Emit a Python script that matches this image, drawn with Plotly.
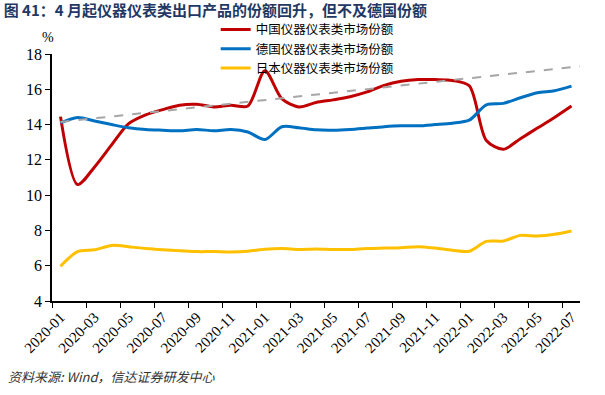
import plotly.graph_objects as go

months = [f"{y}-{m:02d}" for y in (2020, 2021, 2022) for m in range(1, 13)][:31]

china = [14.45, 10.6, 11.6, 12.85, 14.05, 14.55, 14.85, 15.1, 15.15, 15.0, 15.1, 15.05,
         17.05, 15.45, 15.0, 15.25, 15.4, 15.58, 15.85, 16.22, 16.45, 16.55, 16.55, 16.5,
         16.2, 13.1, 12.6, 13.2, 13.8, 14.4, 15.05]
germany = [14.1, 14.4, 14.2, 14.0, 13.82, 13.72, 13.68, 13.65, 13.72, 13.65, 13.72, 13.58,
           13.15, 13.88, 13.82, 13.7, 13.68, 13.72, 13.8, 13.88, 13.93, 13.93, 14.0, 14.08,
           14.25, 15.12, 15.2, 15.52, 15.8, 15.92, 16.18]
japan = [5.97, 6.8, 6.9, 7.15, 7.08, 6.97, 6.9, 6.85, 6.8, 6.8, 6.78, 6.82,
         6.93, 6.97, 6.92, 6.95, 6.92, 6.92, 6.98, 7.0, 7.02, 7.08, 7.0, 6.88,
         6.82, 7.38, 7.4, 7.72, 7.68, 7.78, 7.97]
trend_x = [0, 30.5]
trend_y = [14.15, 17.3]

names = ["中国仪器仪表类市场份额", "德国仪器仪表类市场份额", "日本仪器仪表类市场份额"]
colors = ["#C00000", "#0070C0", "#FFC000"]

fig = go.Figure()
fig.add_trace(go.Scatter(x=trend_x, y=trend_y, mode="lines", xaxis="x2",
                         line=dict(color="#A6A6A6", width=2, dash="dash"),
                         showlegend=False, hoverinfo="skip"))
for name, vals, col in zip(names, [china, germany, japan], colors):
    fig.add_trace(go.Scatter(x=months, y=vals, mode="lines", name=name,
                             line=dict(color=col, width=3, shape="spline", smoothing=0.8)))

serif = "Liberation Serif, Times New Roman, serif"
cjk = "Noto Sans CJK SC"

fig.update_layout(
    width=605, height=395,
    margin=dict(l=52, r=25, t=54, b=94, autoexpand=False),
    plot_bgcolor="white", paper_bgcolor="white",
    title=dict(text="<b>图 41：4 月起仪器仪表类出口产品的份额回升，但不及德国份额</b>",
               xref="container", x=0.006, xanchor="left",
               yref="container", y=0.973, yanchor="middle",
               font=dict(family=cjk, size=15, color="#1F3864")),
    xaxis=dict(type="category", categoryorder="array", categoryarray=months,
               range=[-0.5, 30.5], tickson="boundaries", dtick=2, automargin=False,
               tickangle=-45, ticks="outside", ticklen=5, tickcolor="black",
               showline=True, linecolor="black", linewidth=1.5,
               showgrid=False, zeroline=False,
               tickfont=dict(family=serif, size=15, color="black")),
    xaxis2=dict(overlaying="x", range=[-0.5, 30.5], visible=False),
    yaxis=dict(range=[4, 18], dtick=2, ticks="outside", ticklen=5, tickcolor="black",
               showline=True, linecolor="black", linewidth=1.5, automargin=False,
               showgrid=False, zeroline=False,
               tickfont=dict(family=serif, size=16, color="black")),
    legend=dict(x=0.31, xanchor="left", y=1.158, yanchor="top",
                bgcolor="rgba(0,0,0,0)", font=dict(family=cjk, size=12.5, color="black"),
                tracegroupgap=0),
    annotations=[
        dict(text="%", xref="paper", yref="paper", x=-0.008, y=1.065,
             xanchor="center", yanchor="middle", showarrow=False,
             font=dict(family=serif, size=14, color="black")),
        dict(text="<i>资料来源: Wind，信达证券研发中心</i>", xref="paper", yref="paper",
             x=-0.087, y=-0.304, xanchor="left", yanchor="middle", showarrow=False,
             font=dict(family=cjk, size=13, color="#333333")),
    ],
)

fig.write_html("out.html", config={"displayModeBar": False},
               post_script="document.body.style.margin='0';")
